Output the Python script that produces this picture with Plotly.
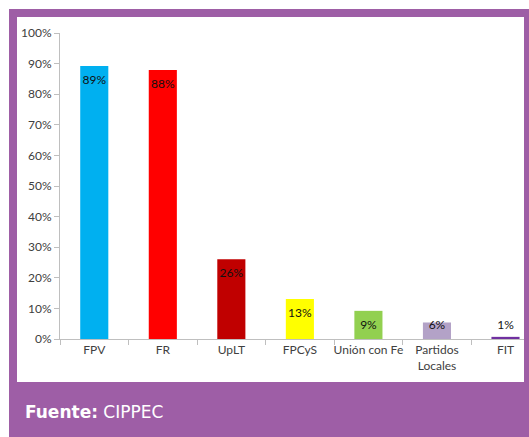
import plotly.graph_objects as go

categories = ["FPV", "FR", "UpLT", "FPCyS", "Unión con Fe", "Partidos<br>Locales", "FIT"]
values = [89.2, 87.9, 26.1, 13.1, 9.2, 5.4, 0.7]
value_labels = ["89%", "88%", "26%", "13%", "9%", "6%", "1%"]
bar_colors = ["#00B0F0", "#FF0000", "#C00000", "#FFFF00", "#92D050", "#B3A2C7", "#7030A0"]
y_ticks = [0, 10, 20, 30, 40, 50, 60, 70, 80, 90, 100]
y_tick_labels = [f"{t}%" for t in y_ticks]

W, H = 529, 437
L, R, T, B = 60, 5, 33, 98
pw, ph = W - L - R, H - T - B

def px_x(x):
    return (x - L) / pw

def px_y(y):
    return (H - B - y) / ph

label_y = [max(v - 4.9, 4.2) for v in values]

fig = go.Figure()
fig.add_trace(go.Bar(
    x=categories, y=values, marker=dict(color=bar_colors, line=dict(width=0)),
    width=0.41, hoverinfo="skip",
))
fig.add_trace(go.Scatter(
    x=categories, y=label_y, mode="text", text=value_labels,
    textfont=dict(family="Lato, Open Sans, sans-serif", size=12, color="#111111"),
    hoverinfo="skip", cliponaxis=False,
))

purple = "#9E5EA6"
fig.add_shape(type="rect", xref="paper", yref="paper", layer="below",
              x0=px_x(9), x1=px_x(W + 5), y0=px_y(H + 5), y1=px_y(9),
              fillcolor=purple, line=dict(width=0))
fig.add_shape(type="rect", xref="paper", yref="paper", layer="below",
              x0=px_x(17), x1=px_x(524), y0=px_y(382), y1=px_y(17),
              fillcolor="white", line=dict(width=0))

fig.add_annotation(xref="paper", yref="paper", x=px_x(23), y=px_y(412),
                   xanchor="left", yanchor="middle", showarrow=False,
                   text="<b>Fuente:</b> CIPPEC",
                   font=dict(family="DejaVu Sans, sans-serif", size=17, color="white"))

fig.update_layout(
    width=W, height=H,
    margin=dict(l=L, r=R, t=T, b=B, pad=0, autoexpand=False),
    paper_bgcolor="white", plot_bgcolor="rgba(0,0,0,0)",
    showlegend=False,
    font=dict(family="Lato, Open Sans, sans-serif", size=11, color="#404040"),
    xaxis=dict(
        type="category", range=[-0.5, 6.27], showgrid=False,
        showline=True, linecolor="#BFBFBF", linewidth=1,
        ticks="outside", tickson="boundaries", ticklen=5, tickcolor="#BFBFBF",
        tickangle=0, automargin=False,
        tickfont=dict(size=12, color="#404040"), fixedrange=True,
    ),
    yaxis=dict(
        range=[0, 100], tickvals=y_ticks, ticktext=y_tick_labels,
        showgrid=False, zeroline=False, automargin=False,
        showline=True, linecolor="#BFBFBF", linewidth=1,
        ticks="outside", ticklen=5, tickcolor="#BFBFBF",
        tickfont=dict(size=12, color="#404040"), fixedrange=True,
    ),
)

fig.write_html(
    "out.html",
    config={"displayModeBar": False},
    post_script="document.body.style.margin='0px';document.body.style.overflow='hidden';",
)
